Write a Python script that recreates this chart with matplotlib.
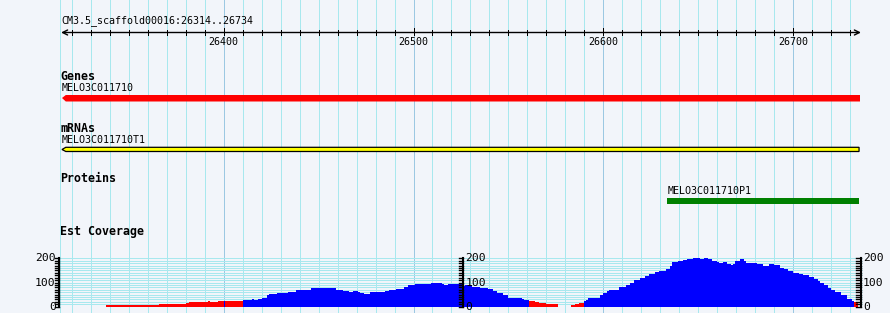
import matplotlib
matplotlib.use("Agg")
import matplotlib.pyplot as plt
from matplotlib.patches import Polygon, Rectangle

# region shown in the browser
region_title = "CM3.5_scaffold00016:26314..26734"
seq_start = 26314
seq_end = 26735
major_ticks = [26400, 26500, 26600, 26700]

# tracks
gene_name = "MELO3C011710"
gene_span = (26314, 26735)
mrna_name = "MELO3C011710T1"
mrna_span = (26314, 26735)
protein_name = "MELO3C011710P1"
protein_span = (26633, 26735)

# est coverage (step starts in bp, value)
cov_pos = [26338, 26366, 26380, 26382, 26392, 26393, 26397, 26400, 26401,
           26410, 26415, 26416, 26418, 26420, 26423, 26424, 26428, 26434,
           26438, 26444, 26446, 26459, 26461, 26463, 26466, 26468, 26471,
           26472, 26474, 26477, 26485, 26487, 26491, 26495, 26497, 26501,
           26509, 26513, 26514, 26515, 26516, 26518, 26521, 26526, 26527,
           26529, 26531, 26535, 26539, 26542, 26544, 26547, 26550, 26556,
           26557, 26558, 26561, 26564, 26566, 26570, 26576, 26583, 26585,
           26587, 26590, 26591, 26592, 26595, 26598, 26600, 26602, 26603,
           26606, 26608, 26612, 26614, 26616, 26619, 26622, 26624, 26627,
           26629, 26633, 26635, 26636, 26639, 26642, 26644, 26647, 26649,
           26651, 26653, 26655, 26657, 26660, 26661, 26663, 26665, 26667,
           26668, 26669, 26672, 26674, 26675, 26681, 26684, 26687, 26690,
           26693, 26695, 26697, 26700, 26703, 26705, 26708, 26711, 26713,
           26714, 26716, 26718, 26720, 26722, 26725, 26728, 26731, 26732]
cov_val = [5, 10, 15, 19, 23, 19, 23, 24, 23,
           26, 30, 28, 33, 38, 47, 51, 55, 59,
           67, 71, 76, 71, 67, 63, 59, 63, 59,
           55, 51, 61, 65, 68, 74, 83, 88, 94,
           96, 99, 100, 92, 88, 94, 92, 85, 90,
           88, 83, 79, 72, 65, 58, 48, 37, 34,
           30, 26, 22, 19, 15, 10, 0, 5, 10,
           15, 25, 27, 34, 38, 48, 58, 63, 67,
           71, 81, 91, 99, 109, 120, 128, 134, 142,
           149, 157, 168, 186, 188, 191, 196, 203, 200,
           198, 203, 196, 190, 185, 179, 183, 175, 172,
           177, 187, 196, 189, 182, 175, 168, 175, 171,
           161, 154, 147, 140, 136, 129, 122, 116, 106,
           99, 88, 79, 69, 61, 50, 30, 25, 18]
cov_end = 26734
cov_axis_ticks = [0, 100, 200]

# pixel layout helpers
W, H = 890, 313
PX = 1.9                       # pixels per bp
X0 = 26400 - 223.5 / PX
X1 = X0 + W / PX
BG = "#f2f5fa"
GRID = "#a8e8ee"
GRID_MAJOR = "#9cc8e2"
MONO = "DejaVu Sans Mono"
LOW = 24                       # below this the coverage is drawn red
ONE_PX = 0.72                  # line width of one pixel at 100 dpi


def main():
    fig = plt.figure(figsize=(W / 100, H / 100), dpi=100, facecolor=BG)
    ax = fig.add_axes([0, 0, 1, 1])
    ax.set_xlim(X0, X1)
    ax.set_ylim(H, 0)
    ax.axis("off")

    # vertical grid
    ax.vlines(seq_start, 0, H, color=GRID, lw=ONE_PX, zorder=0, antialiased=False)
    for g in range(26320, seq_end, 10):
        c = GRID_MAJOR if g % 100 == 0 else GRID
        ax.vlines(g, 0, H, color=c, lw=ONE_PX, zorder=0, antialiased=False)

    # ruler
    ax.text(seq_start + 0.5, 21, region_title, fontsize=7.2, family=MONO,
            ha="left", va="center")
    ax.annotate("", xy=(seq_end + 0.5, 32.5), xytext=(seq_start + 0.5, 32.5),
                arrowprops=dict(arrowstyle="<->", color="black", lw=1,
                                shrinkA=0, shrinkB=0, mutation_scale=9))
    for t in range(26320, seq_end, 10):
        top = 28 if t % 100 == 0 else 30
        ax.plot([t, t], [top, 35], color="black", lw=ONE_PX, antialiased=False)
    for t in major_ticks:
        ax.text(t, 42, str(t), fontsize=7.2, family=MONO, ha="center", va="center")

    # track headings
    for label, y in [("Genes", 76), ("mRNAs", 128), ("Proteins", 179), ("Est Coverage", 231)]:
        ax.text(seq_start, y, label, fontsize=8.4, family=MONO, weight="bold",
                ha="left", va="center")

    # gene
    s, e = gene_span
    ax.text(s + 1, 88, gene_name, fontsize=7.2, family=MONO, ha="left", va="center")
    ax.add_patch(Polygon([(s + 1, 98), (s + 3, 95), (e, 95), (e, 101.5), (s + 3, 101.5)],
                         closed=True, facecolor="#ff0000", edgecolor="none", zorder=3))

    # mRNA
    s, e = mrna_span
    ax.text(s + 1, 140, mrna_name, fontsize=7.2, family=MONO, ha="left", va="center")
    ax.add_patch(Polygon([(s + 1, 149.5), (s + 3, 147.3), (e - 0.5, 147.3), (e - 0.5, 151.5),
                          (s + 3, 151.5)], closed=True, facecolor="#ffff00",
                         edgecolor="black", lw=0.9, zorder=3))

    # protein
    s, e = protein_span
    ax.text(s + 0.5, 191, protein_name, fontsize=7.2, family=MONO, ha="left", va="center")
    ax.add_patch(Rectangle((s + 0.5, 198.3), e - s - 0.8, 5.4,
                           facecolor="#008000", edgecolor="none", zorder=3))

    # coverage panel
    cov = fig.add_axes([0, 6.3 / H, 1, 48.4 / H])
    cov.set_xlim(X0, X1)
    cov.set_ylim(0, 200)
    cov.axis("off")
    cov.patch.set_alpha(0)
    for v in range(10, 201, 10):
        cov.hlines(v, seq_start, seq_end + 1, color=GRID, lw=ONE_PX, zorder=1)
    cov.hlines(0, seq_start, seq_end + 1, color=GRID_MAJOR, lw=ONE_PX, zorder=1)

    edges = cov_pos + [cov_end]
    blue = [v if v >= LOW else 0 for v in cov_val]
    red = [v if v < LOW else 0 for v in cov_val]
    cov.stairs(blue, edges, fill=True, color="#0000ff", lw=0, clip_on=False, zorder=3)
    cov.stairs(red, edges, fill=True, color="#ff0000", lw=0, clip_on=False, zorder=3)

    axis_x = [seq_start - 0.7, 26526, seq_end + 0.3]
    for i, x in enumerate(axis_x):
        cov.plot([x, x], [0, 200], color="black", lw=1.5, zorder=4, clip_on=False)
        for v in range(0, 201, 10):
            cov.plot([x - 2.2, x], [v, v], color="black", lw=1, zorder=4, clip_on=False)
        for v in cov_axis_ticks:
            if i == 0:
                cov.text(x - 1.6, v, str(v), fontsize=8.2, family=MONO,
                         ha="right", va="center", zorder=5)
            else:
                cov.text(x + 1.2, v, str(v), fontsize=8.2, family=MONO,
                         ha="left", va="center", zorder=5)

    fig.savefig("out.png", dpi=100, facecolor=BG)
    plt.close(fig)


if __name__ == "__main__":
    main()
